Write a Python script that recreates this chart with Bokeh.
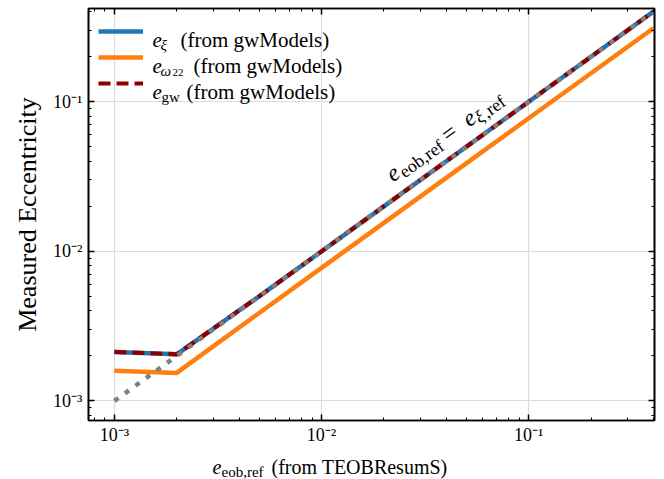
import math

from bokeh.embed import file_html
from bokeh.layouts import column
from bokeh.models import (CustomJSTickFormatter, Label, Legend, LegendItem,
                          LogAxis, LogTicker, Range1d)
from bokeh.plotting import figure
from bokeh.resources import INLINE

# Reference eccentricity from TEOBResumS and the values measured by gwModels
e_eob_ref = [0.001, 0.002, 0.005, 0.01, 0.02, 0.05, 0.1, 0.2, 0.4]
e_xi = [0.00212, 0.00205, 0.0050, 0.0100, 0.0200, 0.0500, 0.1000, 0.2000, 0.4000]
e_omega22 = [0.00159, 0.00154, 0.00387, 0.00775, 0.0155, 0.0387, 0.0775, 0.155, 0.310]
e_gw = [0.00213, 0.00205, 0.0050, 0.0100, 0.0200, 0.0500, 0.1000, 0.2000, 0.4000]
diagonal = [0.001, 0.4]

FONT = "Liberation Serif"
W = 664
MAIN_H, LABEL_H = 447, 32
FRAME_LEFT, FRAME_TOP, FRAME_RIGHT, FRAME_BOTTOM = 88, 8, 654, 423

p = figure(width=W, height=MAIN_H, x_axis_type="log", y_axis_type="log",
           x_range=Range1d(7.5e-4, 0.405), y_range=Range1d(7.4e-4, 0.42),
           output_backend="svg", toolbar_location=None,
           min_border_left=FRAME_LEFT, min_border_right=W - FRAME_RIGHT,
           min_border_top=FRAME_TOP, min_border_bottom=MAIN_H - FRAME_BOTTOM)
p.background_fill_color = "white"
p.border_fill_color = "white"
p.outline_line_color = "black"
p.outline_line_width = 1.6

sup_formatter = CustomJSTickFormatter(code="""
const sup = {"-": "\u207b", "0": "\u2070", "1": "\u00b9", "2": "\u00b2", "3": "\u00b3",
             "4": "\u2074", "5": "\u2075", "6": "\u2076", "7": "\u2077", "8": "\u2078", "9": "\u2079"};
const e = Math.round(Math.log10(tick));
return "10" + String(e).split("").map(c => sup[c]).join("");
""")
blank_formatter = CustomJSTickFormatter(code="return '';")


def style_axis(ax, labels=True):
    ax.ticker = LogTicker(desired_num_ticks=4, num_minor_ticks=10)
    ax.major_tick_in = 6
    ax.major_tick_out = 0
    ax.minor_tick_in = 3
    ax.minor_tick_out = 0
    ax.major_tick_line_width = 1.5
    ax.minor_tick_line_width = 1.0
    ax.major_tick_line_color = "black"
    ax.minor_tick_line_color = "black"
    ax.axis_line_color = "black"
    ax.axis_line_width = 1.6
    if labels:
        ax.formatter = sup_formatter
        ax.major_label_text_font = FONT
        ax.major_label_text_font_size = "18px"
        ax.major_label_text_color = "black"
    else:
        ax.formatter = blank_formatter
        ax.major_label_standoff = 0
        ax.major_label_text_font_size = "1px"


style_axis(p.xaxis[0])
style_axis(p.yaxis[0])
p.xaxis[0].major_label_standoff = 4
p.yaxis[0].major_label_standoff = 6
p.yaxis[0].axis_label = "Measured Eccentricity"
p.yaxis[0].axis_label_text_font = FONT
p.yaxis[0].axis_label_text_font_size = "26px"
p.yaxis[0].axis_label_text_font_style = "normal"
p.yaxis[0].axis_label_text_color = "black"
p.yaxis[0].axis_label_standoff = 8

right_axis = LogAxis()
style_axis(right_axis, labels=False)
p.add_layout(right_axis, "right")
top_axis = LogAxis()
style_axis(top_axis, labels=False)
p.add_layout(top_axis, "above")

p.xgrid.grid_line_color = "#dcdcdc"
p.ygrid.grid_line_color = "#dcdcdc"
p.xgrid.grid_line_width = 1.2
p.ygrid.grid_line_width = 1.2

r_xi = p.line(e_eob_ref, e_xi, line_color="#1f77b4", line_width=4.5)
r_om = p.line(e_eob_ref, e_omega22, line_color="#ff7f0e", line_width=4.5)
r_gw = p.line(e_eob_ref, e_gw, line_color="#8b0000", line_width=4.2, line_dash="12 6")
r_diag = p.line(diagonal, diagonal, line_color="#808080", line_width=4.5,
                line_dash="5 8", line_cap="butt")

legend = Legend(items=[LegendItem(label=" ", renderers=[r_xi]),
                       LegendItem(label=" ", renderers=[r_om]),
                       LegendItem(label=" ", renderers=[r_gw])],
                location="top_left", margin=0, padding=10,
                glyph_width=45, glyph_height=26, label_height=26, spacing=0,
                label_width=200, label_text_font_size="10px",
                background_fill_alpha=0, border_line_alpha=0)
p.add_layout(legend)


def put_text(fig, X, Y, text, size, style="normal", angle=0.0, left=0, bottom=0):
    """Place text at pixel (X, Y) of the figure, measured from its top-left corner."""
    fig.add_layout(Label(x=X - left, y=bottom - Y,
                         x_units="screen", y_units="screen", text=text,
                         text_font=FONT, text_font_size=f"{size}px",
                         text_font_style=style, text_color="black",
                         text_align="left", text_baseline="alphabetic",
                         angle=angle))


def main_text(X, Y, text, size, style="normal", angle=0.0):
    put_text(p, X, Y, text, size, style, angle, left=FRAME_LEFT, bottom=FRAME_BOTTOM)


# legend entries: symbol, subscript and source
rows = [
    (42, [("ξ", 15, "italic", 160, 5)], 180),
    (68, [("ω", 15, "italic", 160, 5), ("22", 11, "normal", 172, 7)], 193),
    (94, [("gw", 15, "normal", 161, 5)], 186),
]
for base, subs, src_x in rows:
    main_text(152, base, "e", 21, "italic")
    for txt, size, style, sx, drop in subs:
        main_text(sx, base + drop, txt, size, style)
    main_text(src_x, base, "(from gwModels)", 21)

# identity-line annotation, written along the diagonal
ang = math.radians(35.8)
start_x, start_y = 388, 179
pieces = [
    ("e", 24, "italic", 0, 0),
    ("eob,ref", 18, "normal", 12, 5),
    ("=", 24, "normal", 68, 0),
    ("e", 24, "italic", 94, 0),
    ("ξ", 18, "italic", 105, 5),
    (",ref", 18, "normal", 114, 5),
]
for txt, size, style, d, s in pieces:
    X = start_x + d * math.cos(ang) + s * math.sin(ang)
    Y = start_y - d * math.sin(ang) + s * math.cos(ang)
    main_text(X, Y, txt, size, style, angle=ang)

# strip under the chart that carries the x axis title with its subscript;
# the column lines its frame up with the chart frame above
strip = figure(width=W, height=LABEL_H, x_range=Range1d(0, 1), y_range=Range1d(0, 1),
               output_backend="svg", toolbar_location=None, title=None,
               x_axis_location=None, y_axis_location=None,
               min_border=0, min_border_left=0, min_border_right=0,
               min_border_top=0, min_border_bottom=0)
strip.grid.visible = False
strip.outline_line_color = None
strip.background_fill_color = "white"
strip.border_fill_color = "white"


def strip_text(X, Y, text, size, style="normal"):
    put_text(strip, X, Y - MAIN_H, text, size, style, left=FRAME_LEFT, bottom=LABEL_H)


strip_text(212, 466, "e", 20, "italic")
strip_text(221, 471, "eob,ref", 15)
strip_text(271, 466, "(from TEOBResumS)", 20)

layout = column(p, strip, spacing=0)
open("out.html", "w").write(file_html(layout, INLINE))
